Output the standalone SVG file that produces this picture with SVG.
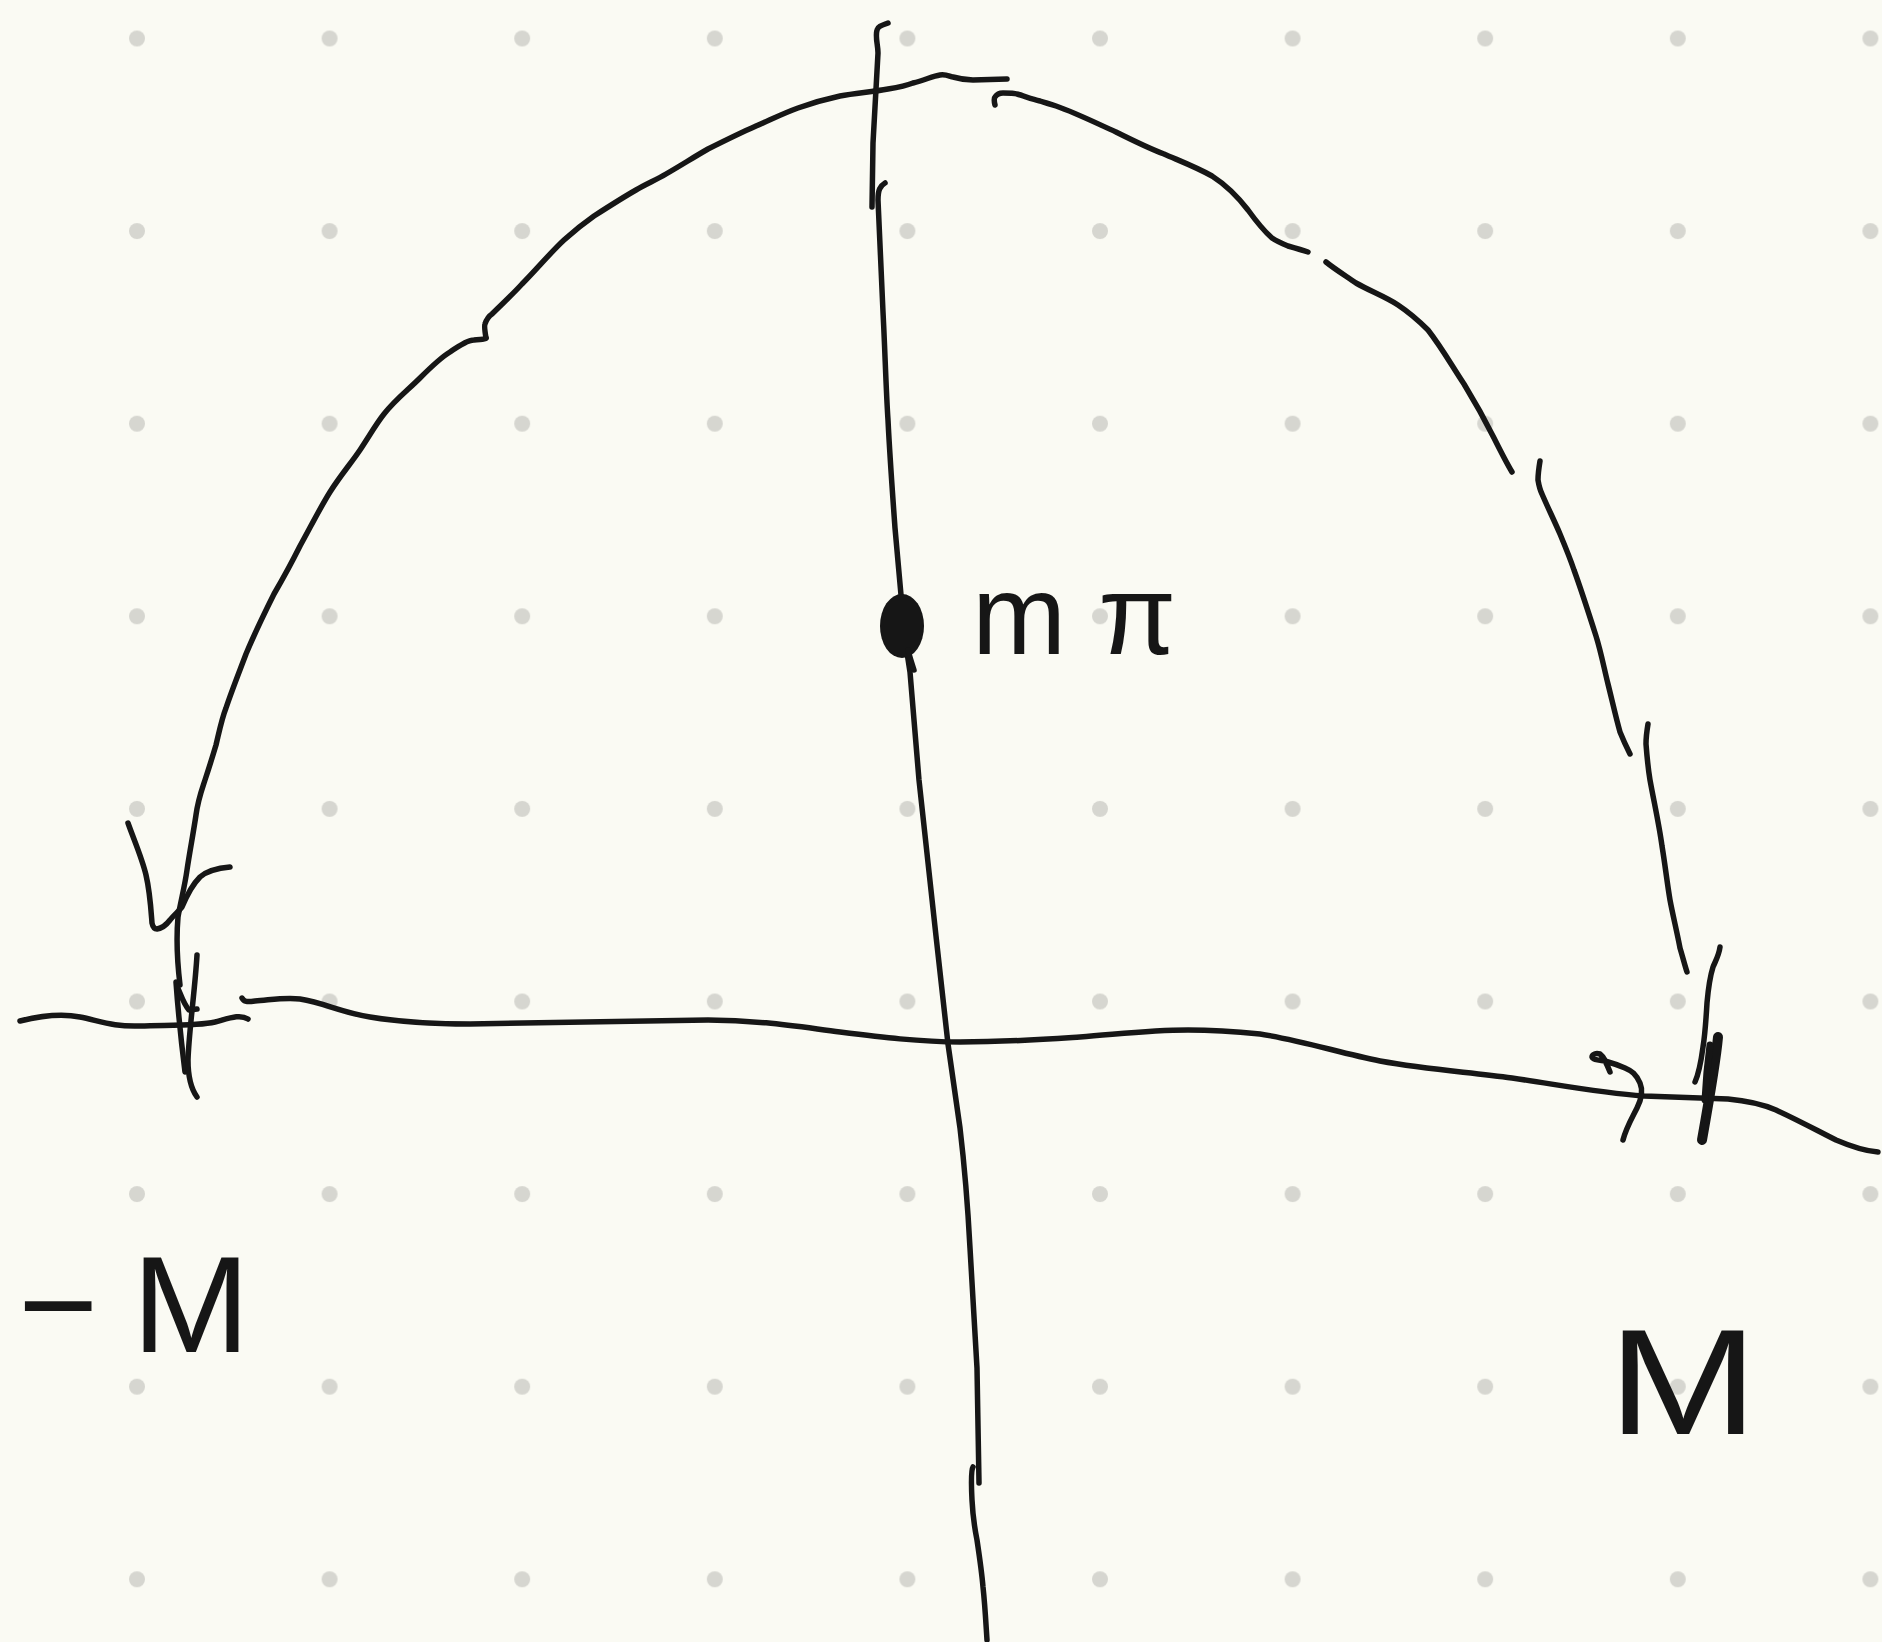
<svg xmlns="http://www.w3.org/2000/svg" width="1882" height="1642" viewBox="0 0 1882 1642">
<defs>
<style>
.bg{fill:#fafaf3}
.dot{fill:#d6d6d0}
.s{fill:none;stroke:#161616;stroke-width:5.5;stroke-linecap:round;stroke-linejoin:round}
.t{fill:#161616;font-family:"Liberation Sans",Arial,sans-serif}
</style>
<pattern id="grid" x="137" y="38.5" width="192.6" height="192.6" patternUnits="userSpaceOnUse">
<circle cx="0" cy="0" r="8" class="dot"/>
<circle cx="192.6" cy="0" r="8" class="dot"/>
<circle cx="0" cy="192.6" r="8" class="dot"/>
<circle cx="192.6" cy="192.6" r="8" class="dot"/>
</pattern>
</defs>
<rect class="bg" width="1882" height="1642"/>
<rect fill="url(#grid)" width="1882" height="1642"/>

<g id="connectors">
<g id="real-axis">
<path class="s" d="M20 1021 C40 1016 60 1013 80 1017 C100 1021 114 1027 140 1026 C170 1025 198 1026 215 1022 C230 1018 240 1014 248 1019"/>
<path class="s" d="M242 998 C244 1002 247 1002 255 1001 C270 1000 285 997 300 999 C325 1003 340 1012 370 1017 C400 1022 430 1024 470 1024 L708 1020 C760 1020 800 1027 840 1032 C880 1037 920 1042 960 1042 C1010 1042 1050 1039 1080 1037 C1120 1034 1150 1030 1188 1030 C1215 1030 1240 1032 1260 1034 C1300 1040 1340 1053 1380 1061 C1430 1070 1470 1072 1512 1078 C1560 1085 1600 1093 1644 1096 L1728 1099 C1750 1101 1762 1104 1776 1110 C1800 1121 1818 1131 1836 1140 C1850 1146 1864 1151 1878 1152"/>
</g>
<g id="imag-axis">
<path class="s" d="M888 23 C883 25 878 26 877 30 C875 37 878 45 878 53 L873 143 L872 207"/>
<path class="s" d="M885 183 C880 186 878 190 878 200 C879 230 881 270 883 312 C885 350 886 390 888 420 C890 460 893 500 895 528 L902 606 C905 640 908 660 910 672 L919 780 L936 936 L948 1044 L960 1128 C965 1170 968 1210 970 1248 L977 1368 L979 1483"/>
<path class="s" d="M973 1467 C971 1470 971 1480 972 1500 C973 1520 975 1530 977 1540 C980 1560 982 1575 983 1587 C985 1605 986 1625 987 1640"/>
</g>
<g id="arc">
<path class="s" d="M180 985 C177 960 176 940 178 917 C181 900 185 885 187 870 C190 850 193 835 196 815 C198 800 200 795 205 780 C210 765 213 755 216 745 C220 728 222 718 226 708 C232 690 240 670 246 654 C256 630 265 612 274 594 C285 575 292 562 300 546 C310 528 320 508 330 492 C340 476 352 462 360 450 C370 435 376 424 384 414 C395 400 408 390 420 378 C432 366 440 358 450 352 C460 345 468 340 474 340 C480 339 484 340 486 338"/>
<path class="s" d="M486 338 C485 332 484 326 485 324 C487 318 489 316 492 314 C502 304 512 295 522 284 C536 270 550 253 564 240 C574 231 584 223 594 216 C608 207 622 198 636 190 C646 184 656 180 666 174 C680 166 694 157 708 149 C724 141 740 133 756 126 C770 120 784 113 798 108 C812 103 826 99 840 96 C856 93 872 92 888 89 C900 87 908 85 913 83 C925 80 933 76 940 75 C947 74 950 77 953 77 C960 79 966 80 973 80 L1007 79"/>
<path class="s" d="M995 105 C994 101 994 98 995 97 C997 94 1000 93 1003 93 C1010 93 1014 93 1017 94 C1024 96 1032 99 1040 101 C1046 103 1050 104 1056 106 C1076 113 1096 123 1116 132 C1132 140 1148 148 1164 154 C1180 161 1196 167 1212 176 C1226 185 1238 197 1248 210 C1256 221 1264 231 1272 238 C1278 242 1283 244 1288 246 C1295 248 1302 250 1308 252"/>
<path class="s" d="M1326 262 C1336 270 1346 276 1356 283 C1370 291 1386 297 1398 305 C1410 313 1420 322 1428 330 C1442 348 1452 366 1464 384 C1475 402 1485 420 1494 438 C1500 450 1506 462 1512 472"/>
<path class="s" d="M1540 461 C1539 467 1538 473 1538 480 C1539 486 1540 490 1542 494 C1548 508 1554 520 1560 534 C1565 546 1570 558 1574 570 C1582 592 1589 614 1596 636 C1601 652 1604 668 1608 684 C1612 700 1616 718 1620 732 C1624 742 1627 748 1630 754"/>
<path class="s" d="M1648 724 C1647 730 1646 738 1646 744 C1647 757 1648 768 1650 780 C1654 802 1659 824 1662 846 C1665 864 1667 882 1670 900 C1673 916 1677 932 1680 948 C1683 958 1685 966 1687 972"/>
</g>
<g id="left-ticks">
<path class="s" d="M128 823 C134 840 142 858 146 875 C150 892 151 910 152 923 C153 928 155 929 157 929 C163 928 167 924 170 920 C175 914 178 912 182 907 C187 895 192 885 200 877 C208 870 218 868 230 867"/>
<path class="s" d="M176 982 C178 1010 181 1040 185 1072"/>
<path class="s" d="M197 955 C195 990 189 1030 188 1060 C188 1080 192 1090 197 1097"/>
<path class="s" d="M177 986 C181 995 184 1005 189 1010 L197 1009"/>
</g>
<g id="right-ticks">
<path class="s" d="M1720 947 C1719 955 1716 960 1713 967 C1709 980 1708 992 1707 1003 C1706 1020 1705 1035 1703 1047 C1701 1062 1699 1073 1695 1082"/>
<path class="s" style="stroke-width:10" d="M1718 1037 C1716 1060 1710 1095 1702 1140"/>
<path class="s" style="stroke-width:7" d="M1710 1045 C1708 1060 1706 1080 1705 1100"/>
<path class="s" d="M1623 1140 C1626 1128 1632 1118 1637 1108 C1642 1098 1643 1090 1640 1083 C1636 1074 1632 1071 1625 1068 C1618 1065 1612 1063 1605 1061 C1598 1060 1593 1060 1592 1057 C1592 1054 1596 1053 1600 1054 C1604 1057 1606 1062 1610 1072"/>
</g>
</g>

<g id="node-point">
<ellipse cx="902" cy="626" rx="22" ry="32" fill="#161616"/>
<path class="s" d="M908 650 C910 658 912 664 914 670"/>
<text class="t" x="972" y="654" font-size="113">m<tspan dx="32">π</tspan></text>
</g>
<g id="node-minus-M">
<text class="t" x="18" y="1352" font-size="137">−<tspan dx="34" textLength="118" lengthAdjust="spacingAndGlyphs">M</tspan></text>
</g>
<g id="node-M">
<text class="t" x="1608" y="1434" font-size="150" textLength="150" lengthAdjust="spacingAndGlyphs">M</text>
</g>
</svg>
